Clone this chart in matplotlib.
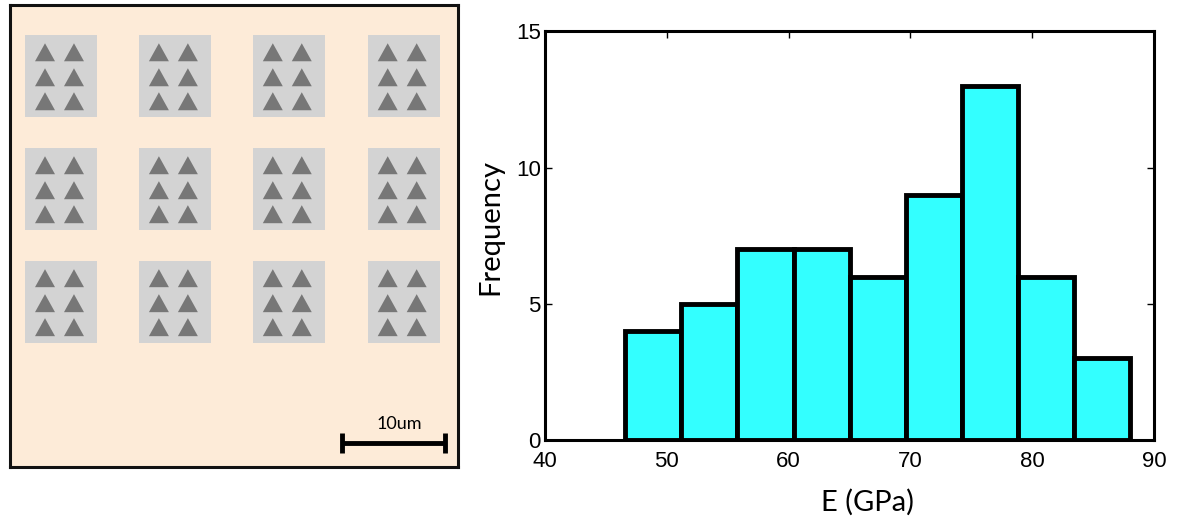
import numpy as np
import matplotlib.pyplot as plt
from matplotlib.patches import Rectangle, Polygon

# Histogram of measured modulus
bin_edges = [46.6, 51.2, 55.8, 60.4, 65.0, 69.6, 74.2, 78.8, 83.4, 88.0]
counts = [4, 5, 7, 7, 6, 9, 13, 6, 3]
x_ticks = [40, 50, 60, 70, 80, 90]
y_ticks = [0, 5, 10, 15]

# Sample layout (left panel, pixel-like units)
pad_cols = [15, 129, 243, 358]
pad_rows = [30, 143, 256]
pad_size = (72, 82)
tri_dx = [20, 49]
tri_dy = [18, 43, 67]

fig = plt.figure(figsize=(11.81, 5.29), dpi=100)

# ---- left: sample schematic ----
ax1 = fig.add_axes([0.0085, 0.117, 0.379, 0.873])
ax1.set_xlim(0, 448)
ax1.set_ylim(462, 0)
ax1.set_facecolor('#fdebd8')
ax1.set_xticks([])
ax1.set_yticks([])
for s in ax1.spines.values():
    s.set_linewidth(2.2)
    s.set_color('#111111')

for px in pad_cols:
    for py in pad_rows:
        ax1.add_patch(Rectangle((px, py), pad_size[0], pad_size[1],
                                facecolor='#d3d3d3', edgecolor='none'))
        for dx in tri_dx:
            for dy in tri_dy:
                cx, cy = px + dx, py + dy
                ax1.add_patch(Polygon([(cx - 10, cy + 8), (cx + 10, cy + 8), (cx, cy - 10)],
                                      closed=True, facecolor='#777777', edgecolor='none'))

# scale bar
bar_x = [332, 435]
bar_y = 438
ax1.plot(bar_x, [bar_y, bar_y], color='black', lw=3.5, solid_capstyle='butt')
for bx in bar_x:
    ax1.plot([bx, bx], [bar_y - 10, bar_y + 10], color='black', lw=3.5, solid_capstyle='butt')
ax1.text(np.mean(bar_x) + 6, bar_y - 11, '10um', ha='center', va='bottom',
         fontsize=13, family='Lato')

# ---- right: histogram ----
ax2 = fig.add_axes([0.4615, 0.168, 0.5157, 0.773])
widths = np.diff(bin_edges)
ax2.bar(bin_edges[:-1], counts, width=widths, align='edge',
        color='#33ffff', edgecolor='black', linewidth=3.5, zorder=2)
ax2.set_xlim(40, 90)
ax2.set_ylim(0, 15)
ax2.set_xticks(x_ticks)
ax2.set_yticks(y_ticks)
ax2.tick_params(direction='in', length=5, width=1, labelsize=16,
                top=True, right=True)
ax2.tick_params(axis='x', pad=8)
ax2.tick_params(axis='y', pad=3)
for lab in ax2.get_xticklabels() + ax2.get_yticklabels():
    lab.set_family('Liberation Sans')
for s in ax2.spines.values():
    s.set_linewidth(2.2)
ax2.set_xlabel('E (GPa)', fontsize=21, family='Lato')
ax2.set_ylabel('Frequency', fontsize=21, family='Lato')
ax2.xaxis.set_label_coords(0.529, -0.118)
ax2.yaxis.set_label_coords(-0.068, 0.52)

fig.savefig('out.png', dpi=100)
